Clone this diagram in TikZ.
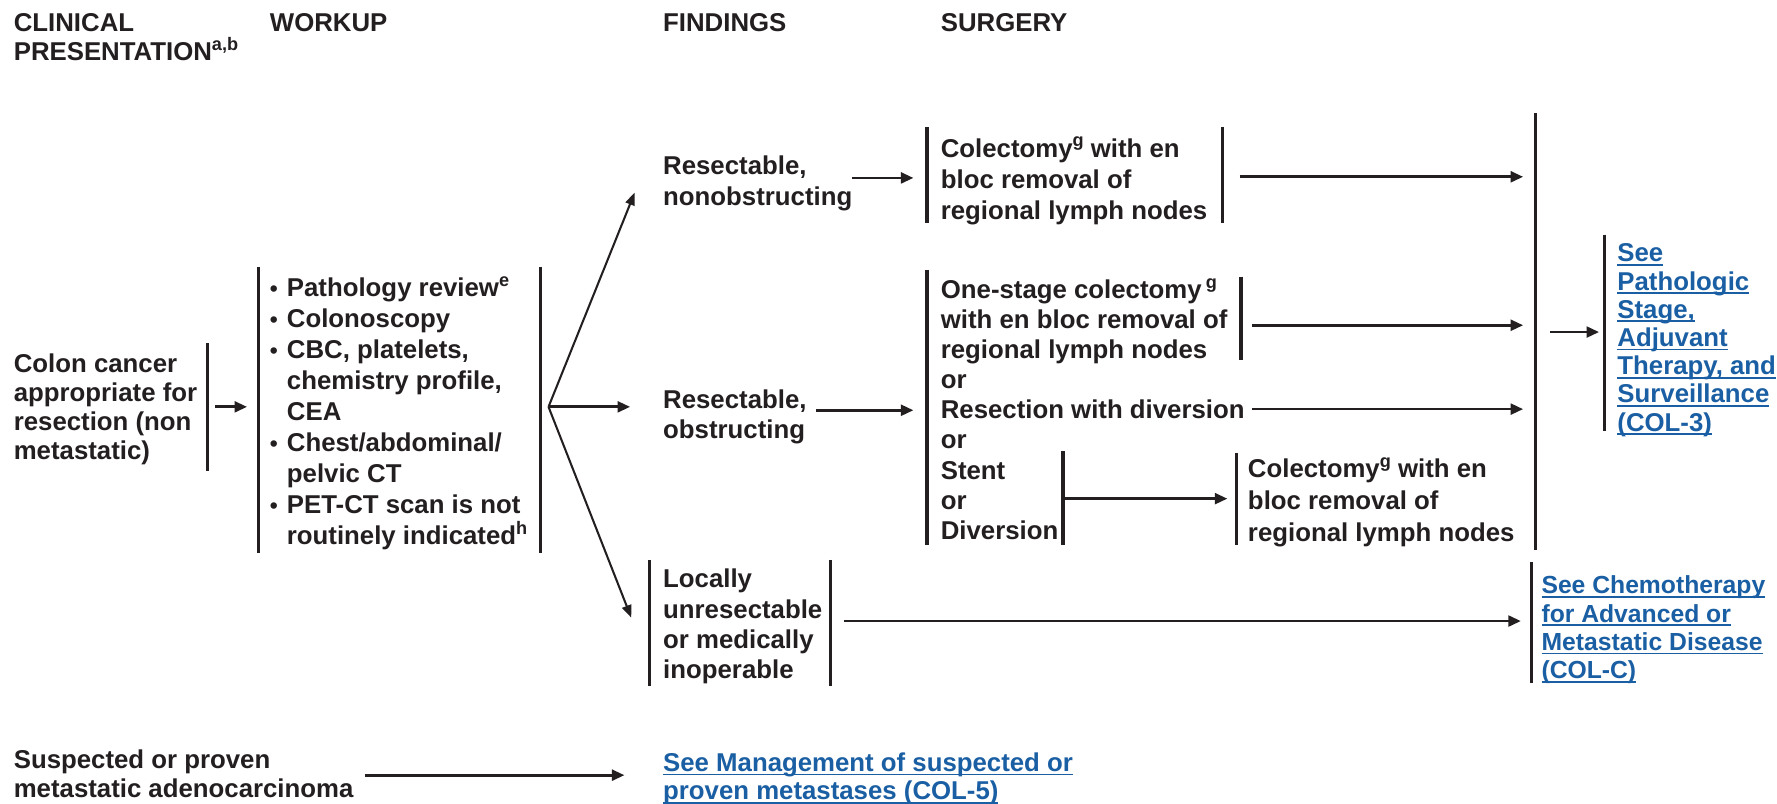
\documentclass[tikz,border=0pt]{standalone}
\usepackage{fontspec}
\setmainfont{Liberation Sans}
\usetikzlibrary{arrows.meta}
\definecolor{ink}{HTML}{231F20}
\definecolor{linkblue}{HTML}{1A5FA3}
\newcommand\sups[1]{\raisebox{0.40em}[0pt][0pt]{\fontsize{16}{16}\selectfont #1}}
\newsavebox\lnkbox
\newcommand\ulink[1]{\sbox\lnkbox{#1}\rlap{\rule[-3.4pt]{\wd\lnkbox}{1.5pt}}\usebox\lnkbox}
\newcommand\wkbul{\makebox[15pt][l]{\fontsize{20}{20}\selectfont\textbullet}}
\newcommand\wkind{\hspace*{15pt}}
\begin{document}
\begin{tikzpicture}[x=1pt,y=-1pt,
 txt/.style={anchor=north west, inner sep=0pt, align=left, text=ink, font=\bfseries\fontsize{22.75}{#1}\selectfont},
 txt/.default=26.5,
 lnk/.style={txt=#1, text=linkblue},
 lnk/.default=25,
 bar/.style={draw=ink, line width=2.8pt},
 arr/.style={draw=ink, line width=2.4pt, -{Triangle[length=11pt,width=9.5pt]}},
 diag/.style={draw=ink, line width=1.8pt, -{Triangle[length=11pt,width=8.5pt]}}]
\useasboundingbox (0,0) rectangle (1568,709);
\fill[white] (0,0) rectangle (1568,709);

% headers
\node[txt=25.5] (hClin) at (12,12) {CLINICAL\\PRESENTATION\sups{a,b}};
\node[txt] (hWork) at (238,12) {WORKUP};
\node[txt] (hFind) at (585,12) {FINDINGS};
\node[txt] (hSurg) at (830,12) {SURGERY};

% text nodes
\node[txt=25.7] (cc) at (12,312) {Colon cancer\\appropriate for\\resection (non\\metastatic)};
\node[txt=27.4] (wk) at (238,245) {\wkbul Pathology review\sups{e}\\\wkbul Colonoscopy\\\wkbul CBC, platelets,\\\wkind chemistry profile,\\\wkind CEA\\\wkbul Chest/abdominal/\\\wkind pelvic CT\\\wkbul PET-CT scan is not\\\wkind routinely indicated\sups{h}};
\node[txt=27.5] (f1) at (585,137) {Resectable,\\nonobstructing};
\node[txt=26] (f2) at (585,344) {Resectable,\\obstructing};
\node[txt=26.7] (f3) at (585,502) {Locally\\unresectable\\or medically\\inoperable};
\node[txt=27.5] (s1) at (830,122) {Colectomy\sups{g} with en\\bloc removal of\\regional lymph nodes};
\node[txt=26.5] (s2) at (830,247) {One-stage colectomy\,\sups{g}\\with en bloc removal of\\regional lymph nodes\\or\\Resection with diversion\\or\\Stent\\or\\Diversion};
\node[txt=28] (s3) at (1101,405) {Colectomy\sups{g} with en\\bloc removal of\\regional lymph nodes};
\node[lnk=24.9] (see3) at (1427,215) {\ulink{See}\\\ulink{Pathologic}\\\ulink{Stage,}\\\ulink{Adjuvant}\\\ulink{Therapy, and}\\\ulink{Surveillance}\\\ulink{(COL-3)}};
\node[lnk=25, font=\bfseries\fontsize{21.8}{25}\selectfont] (seeC) at (1360,508) {\ulink{See Chemotherapy}\\\ulink{for Advanced or}\\\ulink{Metastatic Disease}\\\ulink{(COL-C)}};
\node[txt=26] (sus) at (12,661) {Suspected or proven\\metastatic adenocarcinoma};
\node[lnk=25] (seeM) at (585,664) {\ulink{See Management of suspected or}\\\ulink{proven metastases (COL-5)}};

% bars
\draw[bar] (183,303) -- (183,416);
\draw[bar] (228,236) -- (228,488);
\draw[bar] (477,236) -- (477,488);
\draw[bar] (573,494) -- (573,605);
\draw[bar] (733,494) -- (733,605);
\draw[bar] (818,112) -- (818,197);
\draw[bar] (1079,112) -- (1079,197);
\draw[bar] (818,238) -- (818,481);
\draw[bar] (1095,244) -- (1095,318);
\draw[bar] (938,398) -- (938,481);
\draw[bar] (1091,400) -- (1091,481);
\draw[bar] (1355,100) -- (1355,485);
\draw[bar] (1416,207) -- (1416,380);
\draw[bar] (1351,496) -- (1351,603);

% connector end points
\coordinate (ccOut) at (190,359);
\coordinate (wkIn) at (218,359);
\coordinate (wkOut) at (484,359);
\coordinate (f1In) at (560,170);
\coordinate (f2In) at (556,359);
\coordinate (f3In) at (557,545);
\coordinate (f1Out) at (752,157);
\coordinate (s1In) at (806,157);
\coordinate (f2Out) at (720,362);
\coordinate (s2In) at (806,362);
\coordinate (s1Out) at (1094,156);
\coordinate (bigA) at (1344,156);
\coordinate (s2aOut) at (1105,287);
\coordinate (bigB) at (1344,287);
\coordinate (s2bOut) at (1105,361);
\coordinate (bigC) at (1344,361);
\coordinate (stentOut) at (938,440);
\coordinate (s3In) at (1083,440);
\coordinate (bigOut) at (1368,293);
\coordinate (see3In) at (1411,293);
\coordinate (f3Out) at (745,548);
\coordinate (seeCIn) at (1342,548);
\coordinate (susOut) at (322,684);
\coordinate (seeMIn) at (551,684);

% connectors
\draw[arr] (ccOut) -- (wkIn);
\draw[diag] (wkOut) -- (f1In);
\draw[arr] (wkOut) -- (f2In);
\draw[diag] (wkOut) -- (f3In);
\draw[arr] (f1Out) -- (s1In);
\draw[arr] (f2Out) -- (s2In);
\draw[arr] (s1Out) -- (bigA);
\draw[arr] (s2aOut) -- (bigB);
\draw[arr] (s2bOut) -- (bigC);
\draw[arr] (stentOut) -- (s3In);
\draw[arr] (bigOut) -- (see3In);
\draw[arr] (f3Out) -- (seeCIn);
\draw[arr] (susOut) -- (seeMIn);
\end{tikzpicture}
\end{document}
